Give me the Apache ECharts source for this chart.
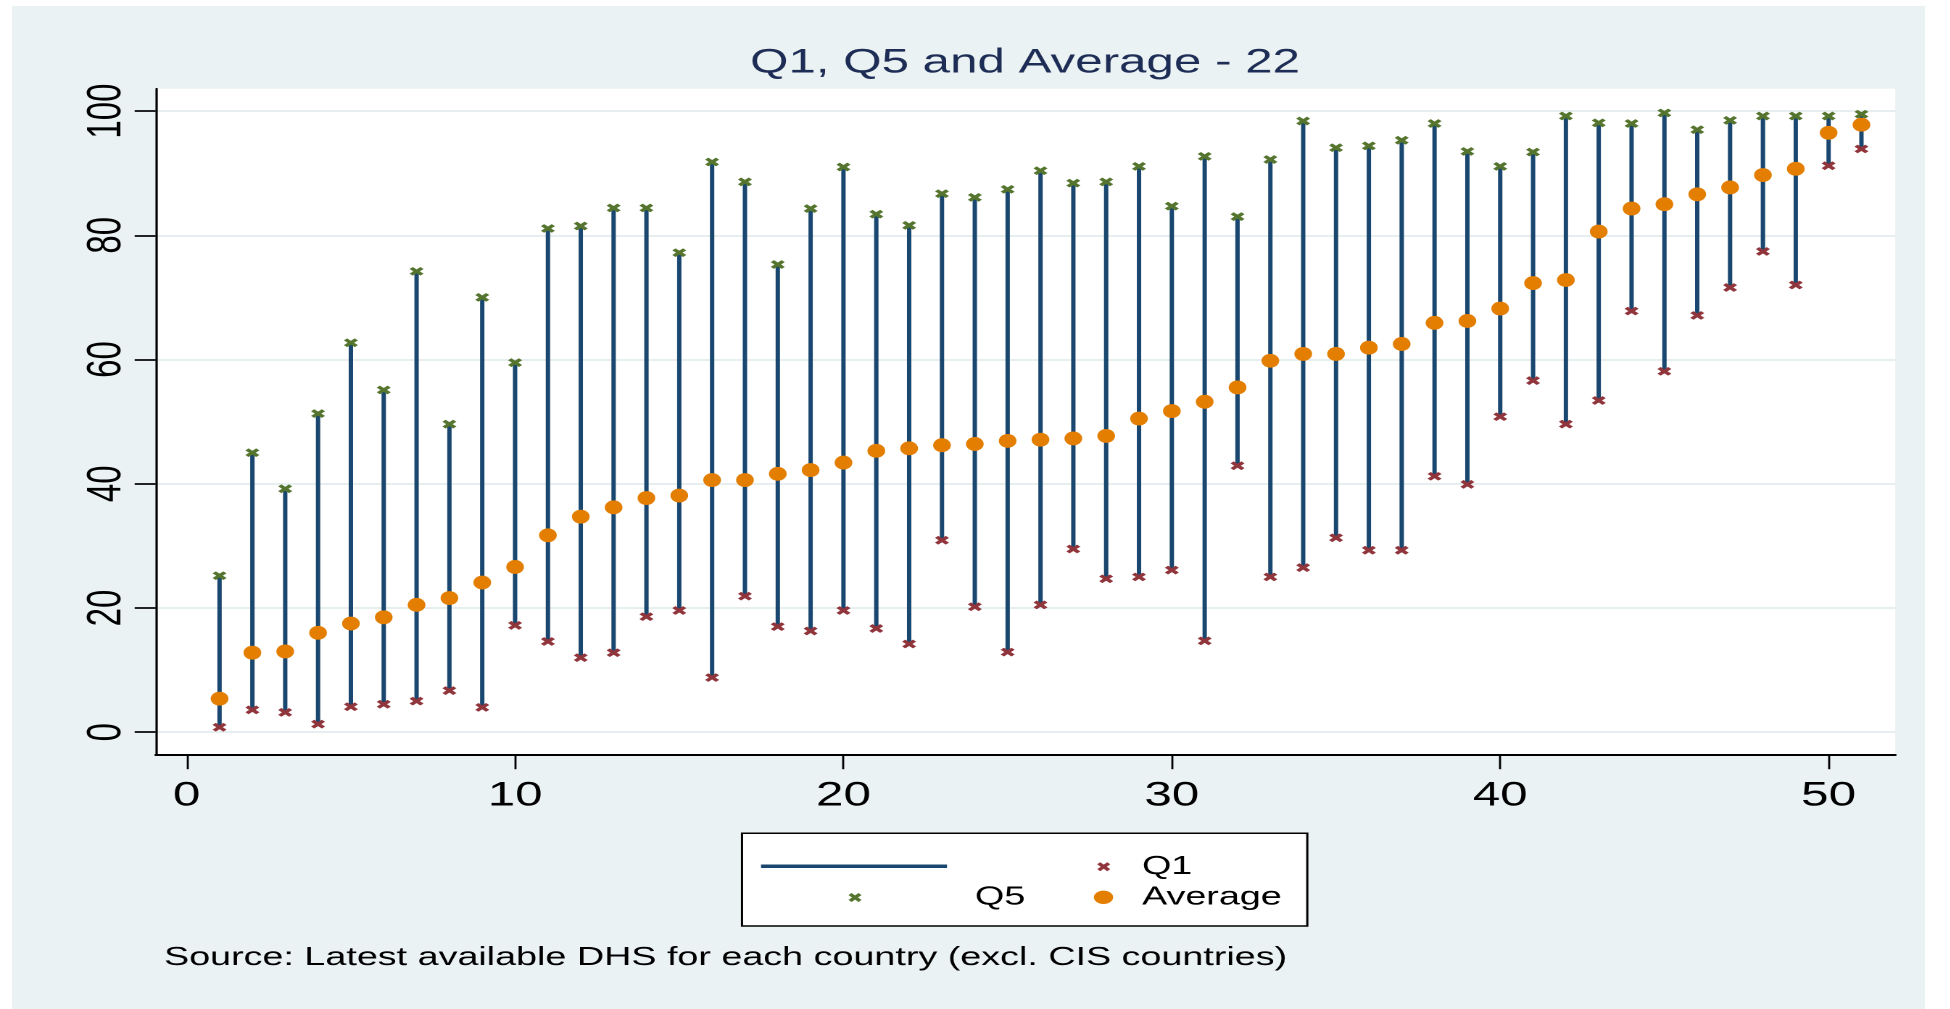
<!DOCTYPE html>
<html>
<head>
<meta charset="utf-8">
<title>Q1, Q5 and Average - 22</title>
<script src="https://cdn.jsdelivr.net/npm/echarts@6.0.0/dist/echarts.min.js"></script>
<style>
  html, body { margin: 0; padding: 0; background: #eaf2f3; overflow: hidden; }
  /* Stata draws its text wide, so the whole chart is drawn narrow and stretched */
  #chart { position: absolute; left: 0; top: 0; height: 1009px; transform-origin: 0 0; }
  /* white page margin round the exported graph */
  #frame {
    position: absolute; left: 0; top: 0; right: 0; bottom: 0; z-index: 5;
    border-style: solid; border-color: #fff; border-width: 6px 25px 0 12px;
    pointer-events: none;
  }
</style>
</head>
<body>
<div id="chart"></div>
<div id="frame"></div>
<script>
// country rank (x) and the three indicators per country
const ranks = [1, 2, 3, 4, 5, 6, 7, 8, 9, 10, 11, 12, 13, 14, 15, 16, 17, 18, 19, 20,
  21, 22, 23, 24, 25, 26, 27, 28, 29, 30, 31, 32, 33, 34, 35, 36, 37, 38, 39, 40,
  41, 42, 43, 44, 45, 46, 47, 48, 49, 50, 51];
const q1 = [0.8, 3.6, 3.2, 1.3, 4.1, 4.5, 5.0, 6.7, 4.0, 17.2, 14.6, 12.0, 12.8, 18.6, 19.6, 8.8,
  21.9, 17.0, 16.3, 19.6, 16.7, 14.2, 30.9, 20.2, 12.9, 20.5, 29.5, 24.7, 25.0, 26.1, 14.7, 42.9,
  25.0, 26.5, 31.3, 29.3, 29.3, 41.2, 39.9, 50.8, 56.6, 49.6, 53.4, 67.8, 58.1, 67.1, 71.6, 77.4,
  72.0, 91.2, 93.9];
const q5 = [25.2, 45.0, 39.2, 51.3, 62.7, 55.1, 74.2, 49.6, 70.0, 59.5, 81.1, 81.5, 84.4, 84.4,
  77.2, 91.8, 88.6, 75.3, 84.3, 91.0, 83.4, 81.6, 86.7, 86.1, 87.4, 90.4, 88.4, 88.6, 91.1, 84.7,
  92.7, 83.0, 92.2, 98.4, 94.1, 94.4, 95.3, 98.0, 93.5, 91.1, 93.4, 99.2, 98.1, 98.0, 99.7, 97.0,
  98.5, 99.2, 99.2, 99.2, 99.5];
const average = [5.4, 12.8, 13.0, 16.0, 17.5, 18.5, 20.5, 21.6, 24.1, 26.6, 31.7, 34.7, 36.2, 37.7,
  38.1, 40.6, 40.6, 41.6, 42.2, 43.4, 45.3, 45.7, 46.2, 46.4, 46.9, 47.1, 47.3, 47.7, 50.5, 51.7,
  53.2, 55.5, 59.8, 60.9, 60.9, 61.9, 62.5, 65.9, 66.2, 68.2, 72.3, 72.8, 80.6, 84.3, 85.0, 86.6,
  87.7, 89.7, 90.7, 96.5, 97.8];

const xTicks = [0, 10, 20, 30, 40, 50];
const yTicks = [0, 20, 40, 60, 80, 100];

const navy = '#1a476f';
const maroon = '#90353b';
const green = '#55752f';
const orange = '#e37e00';
const bg = '#eaf2f3';
const font = 'Liberation Sans, Arial, Helvetica, sans-serif';

// horizontal stretch, positions below are given before stretching
const S = 1.45;
const W = 1950 / S;
const px = (v) => v / S;

// bold "x" marker
const cross = 'path://M0,2.3L2.3,0L5,2.7L7.7,0L10,2.3L7.3,5L10,7.7L7.7,10L5,7.3L2.3,10L0,7.7L2.7,5Z';

const dom = document.getElementById('chart');
dom.style.width = W + 'px';
dom.style.transform = 'scaleX(' + S + ')';

const chart = echarts.init(dom, null, { renderer: 'canvas', devicePixelRatio: 2 });

// legend label pushed right by pad (icons are drawn at the left of their box)
const legendLabel = (pad) => ({
  fontFamily: font,
  fontSize: 26,
  lineHeight: 26,
  color: '#000',
  rich: { t: { fontFamily: font, fontSize: 26, lineHeight: 26, color: '#000', padding: [0, 0, 0, pad] } },
});
const textLeft = px(1142);

const option = {
  backgroundColor: bg,
  animation: false,
  title: [
    {
      text: 'Q1, Q5 and Average - 22',
      left: px(1025),
      top: 46,
      padding: 0,
      textAlign: 'center',
      textVerticalAlign: 'top',
      textStyle: { fontFamily: font, fontSize: 34, lineHeight: 34, fontWeight: 'normal', color: '#1e2d55' },
    },
    {
      text: 'Source: Latest available DHS for each country (excl. CIS countries)',
      left: px(164),
      top: 945,
      padding: 0,
      textAlign: 'left',
      textVerticalAlign: 'top',
      textStyle: { fontFamily: font, fontSize: 26, lineHeight: 26, fontWeight: 'normal', color: '#000' },
    },
  ],
  graphic: [
    {
      // legend frame
      type: 'rect',
      z: 0,
      shape: { x: px(742), y: 833.3, width: px(1307.3 - 742), height: 92.7 },
      style: { fill: '#fff', stroke: '#000', lineWidth: 1.5 },
    },
  ],
  legend: [
    {
      data: [{ name: 'Range', icon: 'rect', itemStyle: { color: navy } }],
      formatter: () => '',
      left: px(761),
      top: 864.5,
      padding: 0,
      itemWidth: px(186),
      itemHeight: 3.5,
      selectedMode: false,
      textStyle: { fontSize: 2, lineHeight: 2 },
    },
    {
      data: [{ name: 'Q1', icon: cross }],
      formatter: '{t|{name}}',
      left: px(1103.7) - 4.5,
      top: 866.7 - 13,
      padding: 0,
      itemWidth: 9,
      itemHeight: 9.5,
      selectedMode: false,
      textStyle: legendLabel(textLeft - (px(1103.7) - 4.5 + 9 + 5)),
    },
    {
      data: [{ name: 'Q5', icon: cross }],
      formatter: '{t|{name}}',
      left: px(855) - 4.5,
      top: 897.5 - 13,
      padding: 0,
      itemWidth: 9,
      itemHeight: 9.5,
      selectedMode: false,
      textStyle: legendLabel(px(975) - (px(855) - 4.5 + 9 + 5)),
    },
    {
      data: [{ name: 'Average', icon: 'circle' }],
      formatter: '{t|{name}}',
      left: px(1103.5) - 6.65,
      top: 897.3 - 13,
      padding: 0,
      itemWidth: 13.3,
      itemHeight: 13.3,
      selectedMode: false,
      textStyle: legendLabel(textLeft - (px(1103.5) - 6.65 + 13.3 + 5)),
    },
  ],
  grid: {
    left: px(155.7),
    right: px(55),
    top: 88.7,
    bottom: 1009 - 755.2,
    show: true,
    backgroundColor: '#fff',
    borderWidth: 0,
  },
  xAxis: {
    type: 'value',
    min: -0.944,
    max: 52.03,
    axisLine: { show: true, onZero: false, lineStyle: { color: '#000', width: 2 } },
    axisTick: { show: true, length: 14, customValues: xTicks, lineStyle: { color: '#000', width: 1.4 } },
    axisLabel: {
      customValues: xTicks,
      margin: 24,
      fontFamily: font,
      fontSize: 34,
      lineHeight: 34,
      color: '#000',
    },
    splitLine: { show: false },
  },
  yAxis: {
    type: 'value',
    min: -3.7,
    max: 103.6,
    axisLine: { show: true, onZero: false, lineStyle: { color: '#000', width: 1.6 } },
    axisTick: { show: true, length: 14.5, customValues: yTicks, lineStyle: { color: '#000', width: 1.7 } },
    axisLabel: {
      customValues: yTicks,
      rotate: 90,
      margin: 17,
      fontFamily: font,
      fontSize: 33,
      lineHeight: 33,
      color: '#000',
    },
    splitLine: { show: true, lineStyle: { color: '#e6eef0', width: 2 } },
  },
  series: [
    {
      name: 'Range',
      type: 'custom',
      itemStyle: { color: navy },
      data: ranks.map((r, i) => [r, q1[i], q5[i]]),
      encode: { x: 0, y: [1, 2] },
      renderItem: (params, api) => {
        const lo = api.coord([api.value(0), api.value(1)]);
        const hi = api.coord([api.value(0), api.value(2)]);
        return {
          type: 'line',
          shape: { x1: lo[0], y1: lo[1], x2: hi[0], y2: hi[1] },
          style: { stroke: navy, lineWidth: 3 },
        };
      },
      z: 2,
    },
    {
      name: 'Q1',
      type: 'scatter',
      symbol: cross,
      symbolKeepAspect: false,
      symbolSize: [9.7, 8.7],
      itemStyle: { color: maroon, opacity: 1 },
      data: ranks.map((r, i) => [r, q1[i]]),
      z: 3,
    },
    {
      name: 'Q5',
      type: 'scatter',
      symbol: cross,
      symbolKeepAspect: false,
      symbolSize: [9.7, 8.7],
      itemStyle: { color: green, opacity: 1 },
      data: ranks.map((r, i) => [r, q5[i]]),
      z: 3,
    },
    {
      name: 'Average',
      type: 'scatter',
      symbol: 'circle',
      symbolSize: [12.2, 13.9],
      itemStyle: { color: orange, opacity: 1 },
      data: ranks.map((r, i) => [r, average[i]]),
      z: 4,
    },
  ],
};

chart.setOption(option);
</script>
</body>
</html>
